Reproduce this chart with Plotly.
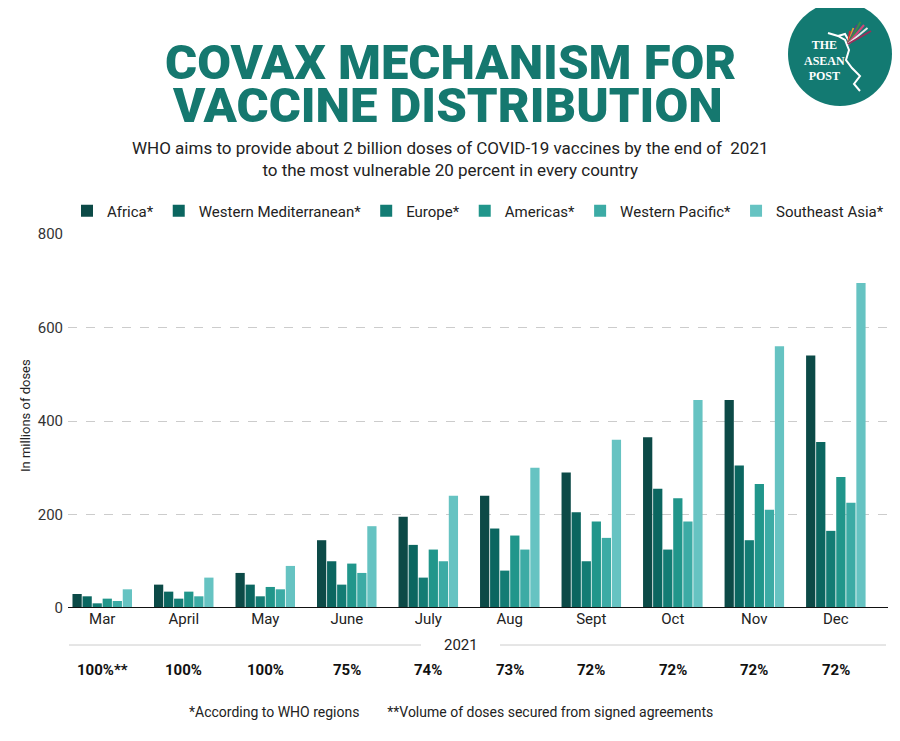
import plotly.graph_objects as go

months = ["Mar", "April", "May", "June", "July", "Aug", "Sept", "Oct", "Nov", "Dec"]
africa = [30, 50, 75, 145, 195, 240, 290, 365, 445, 540]
western_med = [25, 35, 50, 100, 135, 170, 205, 255, 305, 355]
europe = [10, 20, 25, 50, 65, 80, 100, 125, 145, 165]
americas = [20, 35, 45, 95, 125, 155, 185, 235, 265, 280]
western_pacific = [15, 25, 40, 75, 100, 125, 150, 185, 210, 225]
southeast_asia = [40, 65, 90, 175, 240, 300, 360, 445, 560, 695]
secured_pct = ["100%**", "100%", "100%", "75%", "74%", "73%", "72%", "72%", "72%", "72%"]
series_names = ["Africa*", "Western Mediterranean*", "Europe*", "Americas*",
                "Western Pacific*", "Southeast Asia*"]
series_values = [africa, western_med, europe, americas, western_pacific, southeast_asia]
colors = ["#0c4a47", "#0b6660", "#137c74", "#21968b", "#3caba5", "#66c3c2"]

# page has an 8px body margin: figure is drawn at (8, 8)
OFF = 8
W, H = 900 - OFF, 741 - OFF
# plot area in page (reference) pixels
L, R, T, B = 68, 888, 234, 608


def px(x):
    return (x - L) / (R - L)


def py(y):
    return (B - y) / (B - T)


fig = go.Figure()
for name, vals, col in zip(series_names, series_values, colors):
    fig.add_trace(go.Bar(x=months, y=vals, name=name, marker=dict(color=col, line=dict(width=0))))

annotations = []
title_font = dict(family="Roboto", size=49, color="#15786f", weight=900)
annotations.append(dict(text="COVAX MECHANISM FOR", x=px(450), y=py(62), xref="paper", yref="paper",
                        showarrow=False, xanchor="center", yanchor="middle", font=title_font,
                        height=42, valign="middle"))
annotations.append(dict(text="VACCINE DISTRIBUTION", x=px(447), y=py(105), xref="paper", yref="paper",
                        showarrow=False, xanchor="center", yanchor="middle", font=title_font,
                        height=42, valign="middle"))
annotations.append(dict(text="WHO aims to provide about 2 billion doses of COVID-19 vaccines by the end of  2021<br>to the most vulnerable 20 percent in every country",
                        x=px(450), y=py(159), xref="paper", yref="paper", showarrow=False,
                        xanchor="center", yanchor="middle",
                        font=dict(family="Roboto", size=17, color="#222222")))
annotations.append(dict(text="In millions of doses", x=px(25), y=py(416), xref="paper", yref="paper",
                        showarrow=False, textangle=-90, xanchor="center", yanchor="middle",
                        font=dict(family="Roboto", size=13, color="#222222")))
annotations.append(dict(text="2021", x=px(461), y=py(645), xref="paper", yref="paper",
                        showarrow=False, xanchor="center", yanchor="middle",
                        font=dict(family="Roboto", size=15, color="#222222")))
for m, p in zip(months, secured_pct):
    annotations.append(dict(text="<b>%s</b>" % p, x=m, y=py(670), xref="x", yref="paper",
                            showarrow=False, xanchor="center", yanchor="middle",
                            font=dict(family="Roboto", size=15, color="#111111")))
annotations.append(dict(text="*According to WHO regions        **Volume of doses secured from signed agreements",
                        x=px(451), y=py(712), xref="paper", yref="paper", showarrow=False,
                        xanchor="center", yanchor="middle",
                        font=dict(family="Roboto", size=14, color="#222222")))
annotations.append(dict(text="<b>THE<br>ASEAN<br>POST</b>", x=px(824), y=py(61), xref="paper", yref="paper",
                        showarrow=False, xanchor="center", yanchor="middle",
                        font=dict(family="Liberation Serif", size=12, color="white")))

shapes = []
shapes.append(dict(type="line", xref="paper", yref="y", x0=0, x1=1, y0=0, y1=0,
                   line=dict(color="#111111", width=2)))
shapes.append(dict(type="line", xref="paper", yref="paper", x0=px(69), x1=px(421), y0=py(645), y1=py(645),
                   line=dict(color="#cccccc", width=1)))
shapes.append(dict(type="line", xref="paper", yref="paper", x0=px(500), x1=px(886), y0=py(645), y1=py(645),
                   line=dict(color="#cccccc", width=1)))
shapes.append(dict(type="circle", xref="paper", yref="paper", x0=px(788), x1=px(892), y0=py(106), y1=py(2),
                   fillcolor="#137a72", line=dict(width=0)))


def path(points):
    s = "M %f,%f" % (px(points[0][0]), py(points[0][1]))
    for p in points[1:]:
        s += " L %f,%f" % (px(p[0]), py(p[1]))
    return s


shapes.append(dict(type="path", xref="paper", yref="paper",
                   path=path([(828, 33), (838, 36), (845, 40), (849, 50), (846, 60), (852, 68),
                              (860, 76), (854, 84), (860, 91)]),
                   line=dict(color="white", width=2)))
shapes.append(dict(type="path", xref="paper", yref="paper",
                   path=path([(838, 36), (845, 34), (849, 41)]),
                   line=dict(color="white", width=2)))
feather_cols = ["#c8283c", "#e2a52c", "#5a3c8c", "#3c8c46", "#d24678", "#e8e8e8", "#9b2d5a"]
for i, c in enumerate(feather_cols):
    shapes.append(dict(type="line", xref="paper", yref="paper",
                       x0=px(848), y0=py(44), x1=px(850 + i * 3.5), y1=py(22 + abs(i - 3) * 3),
                       line=dict(color=c, width=2)))

fig.update_layout(
    width=W, height=H,
    margin=dict(l=L - OFF, r=900 - R, t=T - OFF, b=741 - B, autoexpand=False),
    paper_bgcolor="white", plot_bgcolor="white",
    barmode="group", bargap=0.26, bargroupgap=0.08,
    font=dict(family="Roboto", color="#222222"),
    showlegend=True,
    legend=dict(orientation="h", x=0.5, xanchor="center", y=py(211), yanchor="middle",
                font=dict(family="Roboto", size=15, color="#222222"), itemwidth=30,
                traceorder="normal", bgcolor="rgba(0,0,0,0)"),
    xaxis=dict(range=[-0.42, 9.64], showgrid=False, showline=False, ticks="", zeroline=False,
               tickfont=dict(family="Roboto", size=15, color="#222222"), fixedrange=True),
    yaxis=dict(range=[0, 800], tickvals=[0, 200, 400, 600, 800], showgrid=True, gridcolor="#cccccc",
               griddash="dash", gridwidth=1, zeroline=False, showline=False, ticks="",
               tickfont=dict(family="Roboto", size=15, color="#333333"), ticklabelstandoff=4,
               fixedrange=True),
    annotations=annotations,
    shapes=shapes,
    hovermode=False,
)

fig.write_html("out.html")
